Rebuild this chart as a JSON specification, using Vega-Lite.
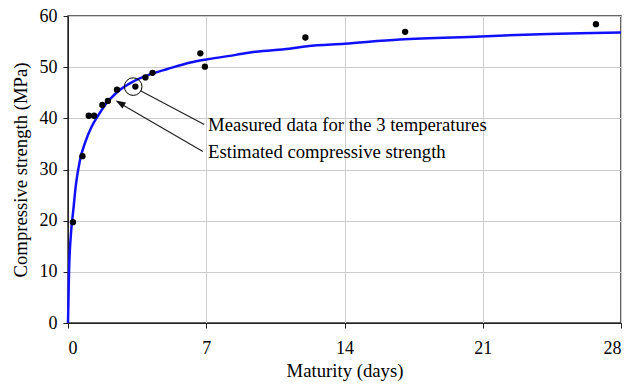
{
  "$schema": "https://vega.github.io/schema/vega-lite/v6.json",
  "autosize": "none",
  "width": 553,
  "height": 307,
  "padding": {"left": 68, "top": 16, "right": 21, "bottom": 61},
  "background": "white",
  "config": {
    "font": "Liberation Serif",
    "view": {"stroke": "#333333", "strokeWidth": 1.5},
    "axis": {
      "labelFont": "Liberation Serif",
      "titleFont": "Liberation Serif",
      "labelFontSize": 18,
      "titleFontSize": 18.7,
      "titleFontWeight": "normal",
      "labelColor": "black",
      "titleColor": "black",
      "domainColor": "#222222",
      "tickColor": "#222222",
      "gridColor": "#cccccc",
      "gridWidth": 1,
      "tickSize": 5
    }
  },
  "datasets": {
    "curve": [
      {"t": 0, "s": 0}, {"t": 0.05, "s": 9.7}, {"t": 0.15, "s": 17.5}, {"t": 0.27, "s": 22.1},
      {"t": 0.39, "s": 26.7}, {"t": 0.61, "s": 31.9}, {"t": 0.86, "s": 35.2}, {"t": 1.2, "s": 38.4},
      {"t": 1.55, "s": 40.7}, {"t": 1.9, "s": 42.7}, {"t": 2.45, "s": 45.0}, {"t": 3.3, "s": 47.2},
      {"t": 4.3, "s": 48.8}, {"t": 5.0, "s": 49.6}, {"t": 6.2, "s": 50.9}, {"t": 7.0, "s": 51.5},
      {"t": 8.5, "s": 52.4}, {"t": 9.5, "s": 53.0}, {"t": 11.2, "s": 53.6}, {"t": 12.1, "s": 54.1},
      {"t": 14.0, "s": 54.6}, {"t": 16.8, "s": 55.4}, {"t": 20.9, "s": 56.0}, {"t": 23.5, "s": 56.4},
      {"t": 28.0, "s": 56.8}
    ],
    "measured": [
      {"t": 0.25, "s": 19.7}, {"t": 0.73, "s": 32.6}, {"t": 1.05, "s": 40.5}, {"t": 1.32, "s": 40.5},
      {"t": 1.74, "s": 42.6}, {"t": 2.02, "s": 43.4}, {"t": 2.48, "s": 45.6}, {"t": 3.41, "s": 46.2},
      {"t": 3.92, "s": 48.0}, {"t": 4.28, "s": 48.9}, {"t": 6.70, "s": 52.7}, {"t": 6.93, "s": 50.1},
      {"t": 12.02, "s": 55.8}, {"t": 17.07, "s": 56.9}, {"t": 26.73, "s": 58.4}
    ],
    "labels": [
      {"t": 7.09, "s": 38.7, "label": "Measured data for the 3 temperatures"},
      {"t": 7.09, "s": 33.5, "label": "Estimated compressive strength"}
    ],
    "leaders": [
      {"t": 3.67, "s": 45.4, "t2": 6.9, "s2": 38.8},
      {"t": 6.83, "s": 33.5, "t2": 2.6, "s2": 43.0}
    ],
    "circle": [{"t": 3.3, "s": 46.2}],
    "arrowhead": [{"t": 2.41, "s": 43.5, "angle": 300}]
  },
  "layer": [
    {
      "data": {"name": "curve"},
      "mark": {"type": "line", "color": "#1010ff", "strokeWidth": 2.5, "interpolate": "monotone"},
      "encoding": {
        "x": {
          "field": "t", "type": "quantitative",
          "scale": {"domain": [0, 28], "nice": false},
          "axis": {"values": [0, 7, 14, 21, 28], "title": "Maturity (days)", "labelPadding": 11, "titlePadding": 4}
        },
        "y": {
          "field": "s", "type": "quantitative",
          "scale": {"domain": [0, 60], "nice": false},
          "axis": {"values": [0, 10, 20, 30, 40, 50, 60], "title": "Compressive strength (MPa)", "labelPadding": 6, "titlePadding": 9}
        }
      }
    },
    {
      "data": {"name": "measured"},
      "mark": {"type": "point", "filled": true, "color": "black", "size": 40, "opacity": 1},
      "encoding": {
        "x": {"field": "t", "type": "quantitative"},
        "y": {"field": "s", "type": "quantitative"}
      }
    },
    {
      "data": {"name": "circle"},
      "mark": {"type": "point", "filled": false, "color": "black", "size": 310, "strokeWidth": 1, "opacity": 1},
      "encoding": {
        "x": {"field": "t", "type": "quantitative"},
        "y": {"field": "s", "type": "quantitative"}
      }
    },
    {
      "data": {"name": "leaders"},
      "mark": {"type": "rule", "color": "#222222", "strokeWidth": 1.2},
      "encoding": {
        "x": {"field": "t", "type": "quantitative"},
        "y": {"field": "s", "type": "quantitative"},
        "x2": {"field": "t2"},
        "y2": {"field": "s2"}
      }
    },
    {
      "data": {"name": "arrowhead"},
      "mark": {"type": "point", "filled": true, "color": "#111111", "size": 100, "opacity": 1, "shape": "M0,0L-0.7,2L0.7,2Z"},
      "encoding": {
        "x": {"field": "t", "type": "quantitative"},
        "y": {"field": "s", "type": "quantitative"},
        "angle": {"field": "angle", "type": "quantitative", "scale": null}
      }
    },
    {
      "data": {"name": "labels"},
      "mark": {"type": "text", "align": "left", "baseline": "middle", "font": "Liberation Serif", "fontSize": 18.7, "color": "black"},
      "encoding": {
        "x": {"field": "t", "type": "quantitative"},
        "y": {"field": "s", "type": "quantitative"},
        "text": {"field": "label"}
      }
    }
  ]
}
